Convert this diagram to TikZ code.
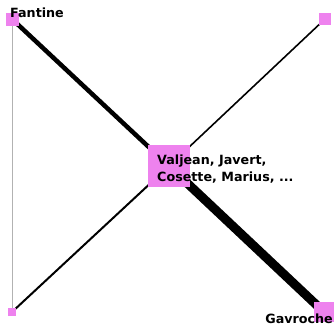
\documentclass[tikz,border=0pt]{standalone}
\usepackage{fontspec}
\setmainfont{DejaVu Sans}
\usetikzlibrary{backgrounds}
\definecolor{violetfill}{RGB}{238,130,238}

\begin{document}
\begin{tikzpicture}[x=1pt, y=-1pt, main/.style = {fill=violetfill, inner sep=0pt, minimum size=#1}, lbl/.style = {font=\fontsize{12.7}{17}\selectfont\bfseries, inner sep=0pt, align=left}]
\useasboundingbox (0,0) rectangle (334,324);
\node[main=13pt] (fan) at (12,19) {};
\node[main=12pt] (tr) at (325,19) {};
\node[main=42pt] (core) at (169,166) {};
\node[main=8pt] (bl) at (12,312) {};
\node[main=20pt] (gav) at (324,312) {};
\begin{pgfonlayer}{background}
\draw[line width=4.5pt] (fan.center) -- (core.center);
\draw[line width=9pt] (core.center) -- (gav.center);
\draw[line width=1.6pt] (core.center) -- (tr.center);
\draw[line width=2pt] (core.center) -- (bl.center);
\draw[line width=0.8pt, gray!60] (fan.center) -- (bl.center);
\end{pgfonlayer}
\node[lbl, anchor=base west] (fanlbl) at (10,17) {Fantine};
\node[lbl, anchor=base west] (corelbl) at (157,181) {Valjean, Javert,\\Cosette, Marius, ...};
\node[lbl, anchor=base east] (gavlbl) at (333,323) {Gavroche};
\end{tikzpicture}
\end{document}
